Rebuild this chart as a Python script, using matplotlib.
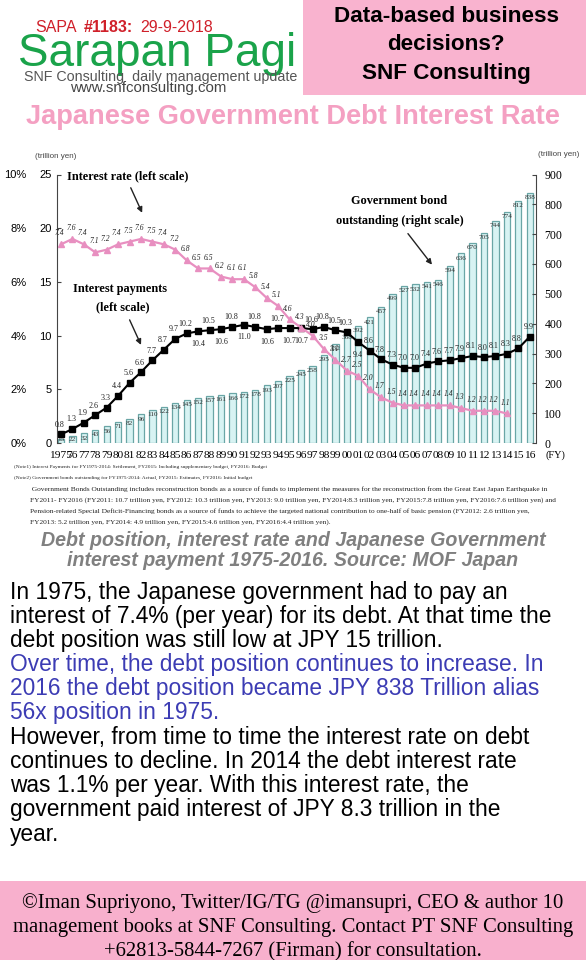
import numpy as np
import matplotlib.pyplot as plt
from matplotlib.patches import Rectangle

SERIF = "Liberation Serif"
SANS = "Liberation Sans"

# data
years = np.arange(1975, 2017)
year_labels = ["1975"] + ["%02d" % (y % 100) for y in range(1976, 2017)]
bonds = [15, 22, 32, 43, 56, 71, 82, 96, 110, 122,
         134, 145, 152, 157, 161, 166, 172, 178, 193, 207,
         225, 245, 258, 295, 332, 368, 392, 421, 457, 499,
         527, 532, 541, 546, 594, 636, 670, 705, 744, 774,
         812, 838]
payments = [0.8, 1.3, 1.9, 2.6, 3.3, 4.4, 5.6, 6.6, 7.7, 8.7,
            9.7, 10.2, 10.4, 10.5, 10.6, 10.8, 11.0, 10.8, 10.6, 10.7,
            10.7, 10.7, 10.6, 10.8, 10.5, 10.3, 9.4, 8.6, 7.8, 7.3,
            7.0, 7.0, 7.4, 7.6, 7.7, 7.9, 8.1, 8.0, 8.1, 8.3,
            8.8, 9.9]
rate_years = np.arange(1975, 2015)
rates = [7.4, 7.6, 7.4, 7.1, 7.2, 7.4, 7.5, 7.6, 7.5, 7.4,
         7.2, 6.8, 6.5, 6.5, 6.2, 6.1, 6.1, 5.8, 5.4, 5.1,
         4.6, 4.3, 4.0, 3.5, 3.1, 2.7, 2.5, 2.0, 1.7, 1.5,
         1.4, 1.4, 1.4, 1.4, 1.4, 1.3, 1.2, 1.2, 1.2, 1.1]
left_ticks = [0, 5, 10, 15, 20, 25]
pct_ticks = [0, 2, 4, 6, 8, 10]
right_ticks = [0, 100, 200, 300, 400, 500, 600, 700, 800, 900]

notes = [
    "(Note1) Interest Payments for FY1975-2014: Settlement, FY2015: Including supplementary budget, FY2016: Budget",
    "(Note2) Government bonds outstanding for FY1975-2014: Actual, FY2015: Estimates, FY2016: Initial budget",
]
notes_detail = [
    " Government Bonds Outstanding includes reconstruction bonds as a source of funds to implement the measures for the reconstruction from the Great East Japan Earthquake in",
    "FY2011- FY2016 (FY2011: 10.7 trillion yen, FY2012: 10.3 trillion yen, FY2013: 9.0 trillion yen, FY2014:8.3 trillion yen, FY2015:7.8 trillion yen, FY2016:7.6 trillion yen) and",
    "Pension-related Special Deficit-Financing bonds as a source of funds to achieve the targeted national contribution to one-half of basic pension (FY2012: 2.6 trillion yen,",
    "FY2013: 5.2 trillion yen, FY2014: 4.9 trillion yen, FY2015:4.6 trillion yen, FY2016:4.4 trillion yen).",
]
body = [
    ("In 1975, the Japanese government had to pay an", "black"),
    ("interest of 7.4% (per year) for its debt. At that time the", "black"),
    ("debt position was still low at JPY 15 trillion.", "black"),
    ("Over time, the debt position continues to increase. In", "#3c3cb4"),
    ("2016 the debt position became JPY 838 Trillion alias", "#3c3cb4"),
    ("56x position in 1975.", "#3c3cb4"),
    ("However, from time to time the interest rate on debt", "black"),
    ("continues to decline. In 2014 the debt interest rate", "black"),
    ("was 1.1% per year. With this interest rate, the", "black"),
    ("government paid interest of JPY 8.3 trillion in the", "black"),
    ("year.", "black"),
]
footer = [
    "\u00a9Iman Supriyono, Twitter/IG/TG @imansupri, CEO & author 10",
    "management books at SNF Consulting. Contact PT SNF Consulting",
    "+62813-5844-7267 (Firman) for consultation.",
]

W, H = 586, 960
fig = plt.figure(figsize=(W / 100, H / 100), dpi=100)


def fx(x):
    return x / W


def fy(y):
    return 1 - y / H


# header
fig.patches.append(Rectangle((fx(303), fy(95)), fx(283), 95 / H, transform=fig.transFigure,
                             facecolor="#f9b3cf", edgecolor="none"))
for i, s in enumerate(["Data-based business", "decisions?", "SNF Consulting"]):
    fig.text(fx(446), fy(17 + 28 * i), s, ha="center", va="center", fontsize=16.2,
             fontweight="bold", family=SANS)
fig.text(fx(35), fy(28), "SAPA", color="#d0202a", fontsize=11.5, family=SANS, va="center")
fig.text(fx(84), fy(28), "#1183:", color="#d0202a", fontsize=11.5, family=SANS,
         fontweight="bold", va="center")
fig.text(fx(140), fy(28), "29-9-2018", color="#d0202a", fontsize=11.5, family=SANS, va="center")
fig.text(fx(157), fy(54), "Sarapan Pagi", color="#1aa34a", fontsize=33, family=SANS,
         ha="center", va="center")
fig.text(fx(161), fy(77), "SNF Consulting  daily management update", color="#555555",
         fontsize=10.3, family=SANS, ha="center", va="center")
fig.text(fx(148), fy(88), "www.snfconsulting.com", color="#444444", fontsize=10.8,
         family=SANS, ha="center", va="center")
fig.text(fx(293), fy(117), "Japanese Government Debt Interest Rate", color="#f4a0c2",
         fontsize=19.6, fontweight="bold", family=SANS, ha="center", va="center")

# chart axes
rect = [fx(57), fy(443), fx(536) - fx(57), (443 - 174.5) / H]
xlim = (1974.65, 2016.55)

ax2 = fig.add_axes(rect)
ax2.bar(years, bonds, width=0.55, color="#d8f3f3", edgecolor="#6aa6a6", linewidth=0.9)
ax2.set_ylim(0, 900)
ax2.set_xlim(*xlim)
ax2.yaxis.tick_right()
ax2.set_yticks(right_ticks)
ax2.set_yticklabels([str(t) for t in right_ticks], family=SERIF, fontsize=8.5)
ax2.tick_params(axis="y", direction="in", length=3, pad=6, color="#444444")
ax2.set_xticks(years)
ax2.set_xticklabels(year_labels, family=SERIF, fontsize=8.2)
ax2.tick_params(axis="x", length=0, pad=6)
for s in ["top", "left", "bottom"]:
    ax2.spines[s].set_visible(False)
ax2.spines["right"].set_color("#444444")
for yr, b in zip(years, bonds):
    ax2.text(yr, max(b - 16, 12), str(b), ha="center", va="center", fontsize=5.2,
             family=SERIF, color="#333333")

ax = fig.add_axes(rect)
ax.patch.set_visible(False)
ax.set_xlim(*xlim)
ax.set_ylim(0, 25)
ax.plot(years, payments, color="black", lw=1.5, marker="s", ms=4.5)
ax.set_yticks(left_ticks)
ax.set_yticklabels([str(t) for t in left_ticks], family=SANS, fontsize=8)
ax.tick_params(axis="y", direction="in", length=3, pad=4, color="#444444")
ax.set_xticks([])
for s in ["top", "right", "bottom"]:
    ax.spines[s].set_visible(False)
ax.spines["left"].set_color("#444444")
for i, (yr, v) in enumerate(zip(years, payments)):
    below = (1987 <= yr <= 1995 and (yr - 1987) % 2 == 0) or yr in (1996, 2001)
    off = (0, -9) if below else (-1, 4)
    ax.annotate("%.1f" % v, (yr, v), xytext=off, textcoords="offset points",
                ha="center", va="bottom" if not below else "center", fontsize=5.8,
                family=SERIF, color="#222222")

axr = fig.add_axes(rect)
axr.patch.set_visible(False)
axr.set_xlim(*xlim)
axr.set_ylim(0, 10)
axr.plot(rate_years, rates, color="#e88fc0", lw=1.6, marker="^", ms=5)
axr.set_yticks(pct_ticks)
axr.set_yticklabels(["%d%%" % t for t in pct_ticks], family=SANS, fontsize=8)
axr.tick_params(axis="y", length=0, pad=22)
axr.set_xticks([])
for s in axr.spines.values():
    s.set_visible(False)
for yr, v in zip(rate_years, rates):
    axr.annotate("%.1f" % v, (yr, v), xytext=(-1, 5), textcoords="offset points",
                 ha="center", va="bottom", fontsize=5.5, style="italic",
                 family=SERIF, color="#222222")

# annotations
ax.text(1980.8, 24.8, "Interest rate (left scale)", ha="center", va="center",
        fontsize=8.8, fontweight="bold", family=SERIF)
ax.annotate("", xy=(1982.2, 21.2), xytext=(1981.0, 24.0),
            arrowprops=dict(arrowstyle="-|>", color="#222222", lw=1, mutation_scale=8))
ax.text(1980.2, 14.3, "Interest payments", ha="center", va="center",
        fontsize=8.8, fontweight="bold", family=SERIF)
ax.text(1980.4, 12.6, "(left scale)", ha="center", va="center",
        fontsize=8.8, fontweight="bold", family=SERIF)
ax.annotate("", xy=(1982.1, 8.9), xytext=(1980.9, 11.7),
            arrowprops=dict(arrowstyle="-|>", color="#222222", lw=1, mutation_scale=8))
ax.text(2004.6, 22.5, "Government bond", ha="center", va="center",
        fontsize=8.8, fontweight="bold", family=SERIF)
ax.text(2004.6, 20.7, "outstanding (right scale)", ha="center", va="center",
        fontsize=8.8, fontweight="bold", family=SERIF)
ax.annotate("", xy=(2007.6, 16.4), xytext=(2005.2, 19.7),
            arrowprops=dict(arrowstyle="-|>", color="#222222", lw=1, mutation_scale=8))

fig.text(fx(35), fy(156), "(trillion yen)", fontsize=5.8, family=SANS, color="#444444",
         va="center")
fig.text(fx(538), fy(155), "(trillion yen)", fontsize=5.8, family=SANS, color="#444444",
         va="center")
fig.text(fx(545), fy(455), "(FY)", fontsize=7.5, family=SERIF, va="center")

# notes
for i, s in enumerate(notes):
    fig.text(fx(14), fy(467 + 11 * i), s, fontsize=3.9, family=SERIF, va="center",
             color="#222222")
for i, s in enumerate(notes_detail):
    fig.text(fx(30), fy(489 + 11 * i), s, fontsize=5.3, family=SERIF, va="center",
             color="#222222")

fig.text(fx(293), fy(541), "Debt position, interest rate and Japanese Government",
         ha="center", va="center", fontsize=14.1, fontweight="bold", style="italic",
         family=SANS, color="#808080")
fig.text(fx(293), fy(561), "interest payment 1975-2016. Source: MOF Japan",
         ha="center", va="center", fontsize=14.1, fontweight="bold", style="italic",
         family=SANS, color="#808080")

for i, (s, c) in enumerate(body):
    fig.text(fx(10), fy(592 + 24.2 * i), s, fontsize=16.4, family=SANS, color=c,
             va="center")

# footer
fig.patches.append(Rectangle((0, 0), 1, fy(881), transform=fig.transFigure,
                             facecolor="#f8b0cd", edgecolor="none"))
for i, s in enumerate(footer):
    fig.text(fx(293), fy(903 + 24.5 * i), s, ha="center", va="center", fontsize=14.9,
             family=SERIF)

fig.savefig("out.png", dpi=100)
